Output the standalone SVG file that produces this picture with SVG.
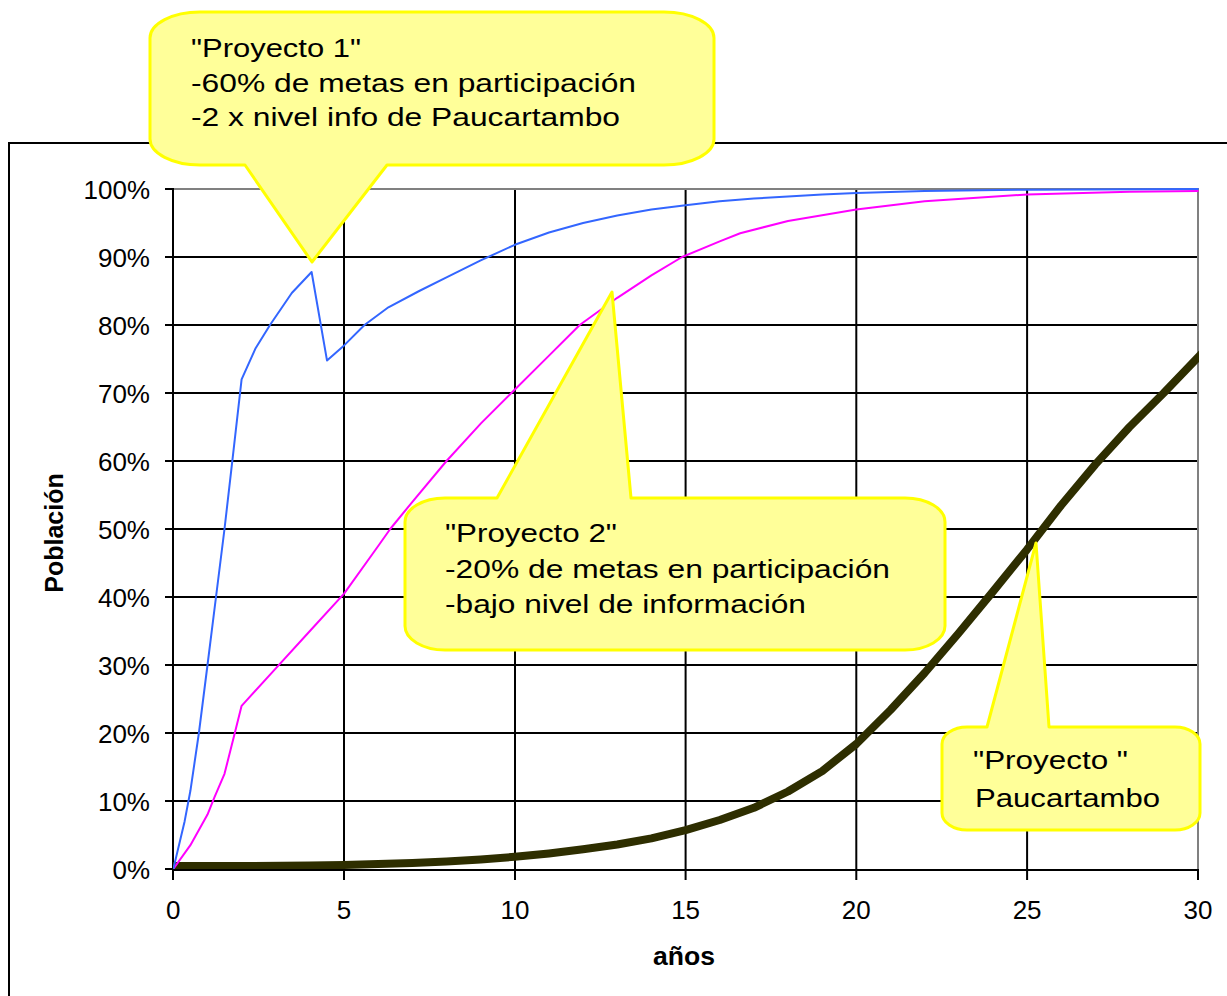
<svg xmlns="http://www.w3.org/2000/svg" width="1227" height="996" viewBox="0 0 1227 996">
<style>
.grid{stroke:#000;stroke-width:2;fill:none}
.border{stroke:#808080;stroke-width:2;fill:none}
.tick{stroke:#000;stroke-width:2;fill:none}
.lbl{font-family:"Liberation Sans",Arial,sans-serif;font-size:26px;fill:#000}
.ttl{font-family:"Liberation Sans",Arial,sans-serif;font-size:25px;font-weight:bold;fill:#000}
.call{fill:#ffff99;stroke:#ffff00;stroke-width:3;stroke-linejoin:round}
.ctext{font-family:"Liberation Sans",Arial,sans-serif;font-size:25px;fill:#000}
.series{fill:none;stroke-linejoin:round;stroke-linecap:round}
</style>
<defs>
<clipPath id="plotclip"><rect x="173" y="186" width="1026" height="683"/></clipPath>
</defs>
<rect x="0" y="0" width="1227" height="996" fill="#fff"/>
<path d="M9,996 V143 H1227" stroke="#000" stroke-width="2" fill="none"/>
<g id="plot-grid">
<path class="grid" d="M173,801 H1198 M173,733 H1198 M173,665 H1198 M173,597 H1198 M173,529 H1198 M173,461 H1198 M173,393 H1198 M173,325 H1198 M173,257 H1198"/>
<path class="grid" d="M344,189 V869 M515,189 V869 M685.6,189 V869 M856.3,189 V869 M1027.1,189 V869"/>
<path class="border" d="M173,189 H1198 V869"/>
<path class="tick" d="M173,188 V870 H1198 M165,189 H173 M165,257 H173 M165,325 H173 M165,393 H173 M165,461 H173 M165,529 H173 M165,597 H173 M165,665 H173 M165,733 H173 M165,801 H173 M165,869 H173 M173,869 V880 M344,869 V880 M515,869 V880 M685.6,869 V880 M856.3,869 V880 M1027.1,869 V880 M1198,869 V880"/>
</g>
<g id="y-labels" class="lbl" text-anchor="end">
<text x="150" y="198.5">100%</text>
<text x="150" y="266.5">90%</text>
<text x="150" y="334.5">80%</text>
<text x="150" y="402.5">70%</text>
<text x="150" y="470.5">60%</text>
<text x="150" y="538.5">50%</text>
<text x="150" y="606.5">40%</text>
<text x="150" y="674.5">30%</text>
<text x="150" y="742.5">20%</text>
<text x="150" y="810.5">10%</text>
<text x="150" y="878.5">0%</text>
</g>
<g id="x-labels" class="lbl" text-anchor="middle">
<text x="173.3" y="918.5">0</text>
<text x="344" y="918.5">5</text>
<text x="515" y="918.5">10</text>
<text x="685.6" y="918.5">15</text>
<text x="856.3" y="918.5">20</text>
<text x="1027.1" y="918.5">25</text>
<text x="1198" y="918.5">30</text>
</g>
<text id="x-title" class="ttl" x="653" y="965" textLength="62" lengthAdjust="spacingAndGlyphs" font-size="24">años</text>
<text id="y-title" class="ttl" text-anchor="middle" transform="translate(63,533) rotate(-90)">Población</text>
<g id="series" clip-path="url(#plotclip)">
<polyline id="paucartambo" class="series" stroke="#2e2e00" stroke-width="8" points="173.3,866 241.6,866 309.9,865.6 344.1,864.9 378.2,863.9 412.4,862.9 446.5,861.5 480.7,859.5 514.8,856.8 549,853.4 583.1,849.3 617.3,844.5 651.4,838.4 685.6,830.2 719.7,820 753.9,807.8 788,791.5 822.2,771.1 856.3,744 890.5,710 924.6,673 958.8,633 992.9,591.6 1027.1,549.4 1061.2,505.2 1095.4,464.4 1129.5,427 1163.7,393 1205,350"/>
<polyline id="proyecto2" class="series" stroke="#ff00ff" stroke-width="2" points="173.3,869 190.4,845.2 207.5,814.6 214.3,797.6 224.5,773.8 233.1,739.8 241.6,705.8 275.8,668.4 309.9,631 344.1,593.6 378.2,546 390.2,529 412.4,501.8 446.5,461 480.7,423.6 511.4,393 549,355.6 579.7,325 617.3,297.8 651.4,275.4 682.1,257 719.7,241.4 740.2,233.2 788,221 856.3,209.4 924.6,201.2 1027.1,194.4 1129.5,191.7 1197.8,191"/>
<polyline id="proyecto1" class="series" stroke="#3366ff" stroke-width="2" points="173.3,869 184.6,821.4 190.4,790.8 198.9,733 207.5,665 216,597 224.5,529 233.1,454.2 241.6,379.4 255.3,348.8 270,325 291.8,293 311.6,272 327,360.4 344.1,345.4 364.5,325 388.4,307.3 419.2,291 446.5,277.4 480.7,260.4 514.8,244.8 549,232.5 583.1,223 617.3,215.5 651.4,209.4 685.6,205.3 719.7,201.2 753.9,198.5 788,196.5 822.2,194.4 856.3,193.1 924.6,191 1027.1,189.7 1197.8,189"/>
</g>
<g id="callout-1">
<path class="call" d="M200,12 H664 A50 26 0 0 1 714,38 V139 A50 26 0 0 1 664,165 H387 L312,262 L245,165 H200 A50 26 0 0 1 150,139 V38 A50 26 0 0 1 200,12 Z"/>
<text class="ctext" x="191" y="57" textLength="170" lengthAdjust="spacingAndGlyphs">"Proyecto 1"</text>
<text class="ctext" x="191" y="91.5" textLength="445" lengthAdjust="spacingAndGlyphs">-60% de metas en participación</text>
<text class="ctext" x="191" y="126" textLength="429" lengthAdjust="spacingAndGlyphs">-2 x nivel info de Paucartambo</text>
</g>
<g id="callout-2">
<path class="call" d="M445,498 H497 L612,292 L631,498 H905 A40 24 0 0 1 945,522 V626 A40 24 0 0 1 905,650 H445 A40 24 0 0 1 405,626 V522 A40 24 0 0 1 445,498 Z"/>
<text class="ctext" x="445" y="542" textLength="172" lengthAdjust="spacingAndGlyphs">"Proyecto 2"</text>
<text class="ctext" x="445" y="578" textLength="445" lengthAdjust="spacingAndGlyphs">-20% de metas en participación</text>
<text class="ctext" x="445" y="613" textLength="361" lengthAdjust="spacingAndGlyphs">-bajo nivel de información</text>
</g>
<g id="callout-3">
<path class="call" d="M967,727 H987 L1036,543 L1049,727 H1175 A25 17 0 0 1 1200,744 V813 A25 17 0 0 1 1175,830 H967 A25 17 0 0 1 942,813 V744 A25 17 0 0 1 967,727 Z"/>
<text class="ctext" x="973" y="769" textLength="155" lengthAdjust="spacingAndGlyphs">"Proyecto "</text>
<text class="ctext" x="975" y="807" textLength="185" lengthAdjust="spacingAndGlyphs">Paucartambo</text>
</g>
</svg>
